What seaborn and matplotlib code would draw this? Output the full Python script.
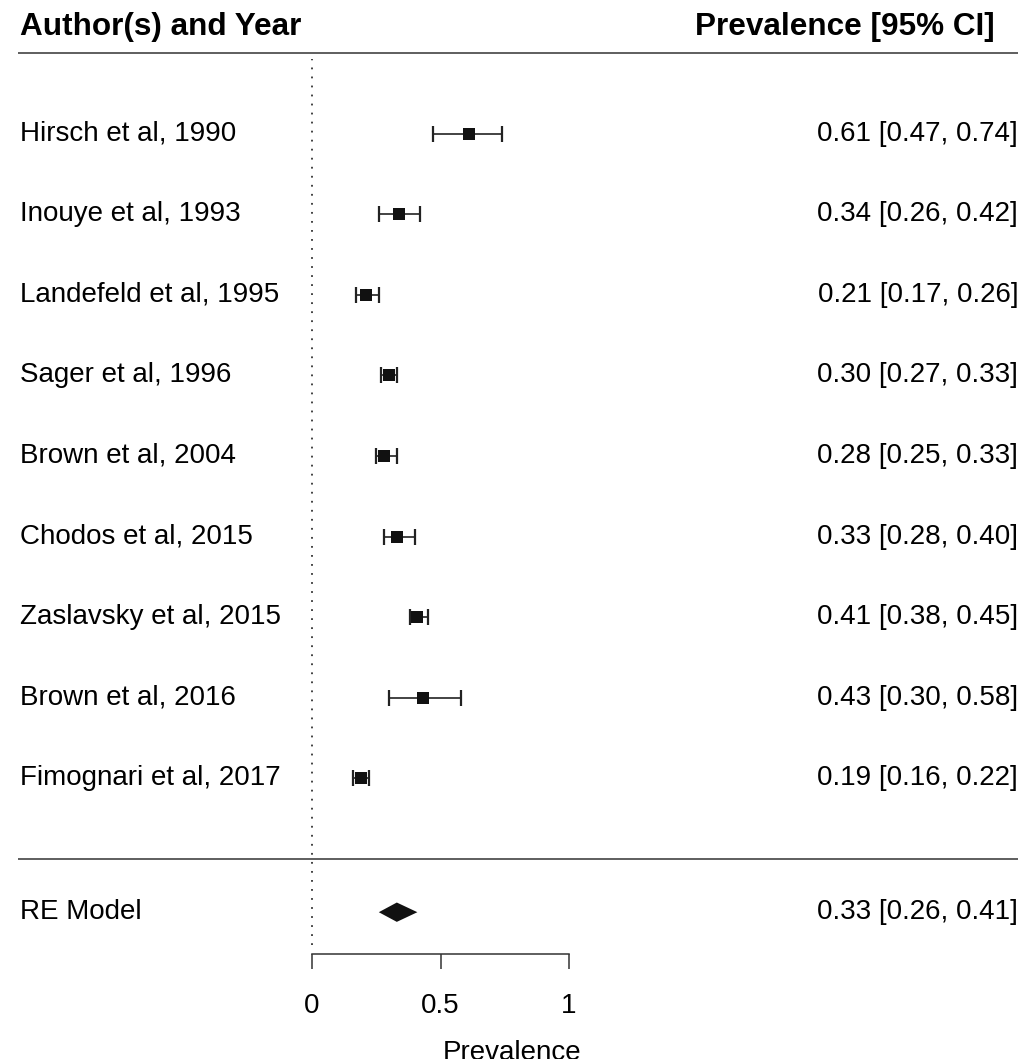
import numpy as np
import pandas as pd
import matplotlib
matplotlib.use("Agg")
import matplotlib.pyplot as plt
import seaborn as sns

## data
studies = ["Hirsch et al, 1990", "Inouye et al, 1993", "Landefeld et al, 1995",
           "Sager et al, 1996", "Brown et al, 2004", "Chodos et al, 2015",
           "Zaslavsky et al, 2015", "Brown et al, 2016", "Fimognari et al, 2017"]
est = [0.61, 0.34, 0.21, 0.30, 0.28, 0.33, 0.41, 0.43, 0.19]
lower = [0.47, 0.26, 0.17, 0.27, 0.25, 0.28, 0.38, 0.30, 0.16]
upper = [0.74, 0.42, 0.26, 0.33, 0.33, 0.40, 0.45, 0.58, 0.22]
re_est, re_lo, re_hi = 0.33, 0.26, 0.41
xticks = [0, 0.5, 1]
xticklabels = ["0", "0.5", "1"]

sns.set_theme(style="white")
plt.rcParams["font.family"] = ["Liberation Sans", "DejaVu Sans"]
plt.rcParams["text.color"] = "black"
plt.rcParams["axes.labelcolor"] = "black"
plt.rcParams["xtick.color"] = "black"

df = pd.DataFrame({"study": studies, "est": est, "lo": lower, "hi": upper})
df["row"] = np.arange(len(df), 0, -1)   # rows k..1 like metafor

fig = plt.figure(figsize=(10.25, 10.59), dpi=100)
ax = fig.add_axes([0, 0, 1, 1])
ax.set_xlim(-312 / 257, (1025 - 312) / 257)
ax.set_ylim(-200 / 80.6, 859 / 80.6)

# confidence intervals
ax.errorbar(df["est"], df["row"], xerr=[df["est"] - df["lo"], df["hi"] - df["est"]],
            fmt="none", ecolor="#222222", elinewidth=1.2, capsize=5.5, capthick=1.6)
sns.scatterplot(data=df, x="est", y="row", marker="s", s=68, color="#111111",
                edgecolor="#111111", linewidth=0, ax=ax, zorder=3)

# summary diamond
re_row = -0.66
ax.fill([re_lo, re_est, re_hi, re_est], [re_row, re_row + 0.12, re_row, re_row - 0.12],
        color="#111111", lw=0)

# reference line at 0
ax.vlines(0, -1.07, 9.92, color="#333333", lw=1.3, linestyles=(0, (1, 4)))

# text column anchors (data units of the x scale)
xl, xr, xh = -1.136, 2.748, 2.658

# horizontal rules
ax.hlines([10, 0], xl - 0.008, xr, color="#333333", lw=1.1)

fs = 20
for _, r in df.iterrows():
    ax.text(xl, r["row"], r["study"], ha="left", va="center", fontsize=fs)
    ax.text(xr, r["row"], f"{r['est']:.2f} [{r['lo']:.2f}, {r['hi']:.2f}]",
            ha="right", va="center", fontsize=fs)
ax.text(xl, re_row, "RE Model", ha="left", va="center", fontsize=fs)
ax.text(xr, re_row, f"{re_est:.2f} [{re_lo:.2f}, {re_hi:.2f}]",
        ha="right", va="center", fontsize=fs)
ax.text(xl, 10.32, "Author(s) and Year", ha="left", va="center",
        fontsize=22.7, fontweight="bold")
ax.text(xh, 10.32, "Prevalence [95% CI]", ha="right", va="center",
        fontsize=22.7, fontweight="bold")

# x axis drawn as a floating spine
for s in ["top", "right", "left"]:
    ax.spines[s].set_visible(False)
ax.spines["bottom"].set_position(("data", -1.18))
ax.spines["bottom"].set_bounds(0, 1)
ax.spines["bottom"].set_color("#333333")
ax.spines["bottom"].set_linewidth(1.1)
ax.set_xticks(xticks)
ax.set_xticklabels(xticklabels, fontsize=fs)
ax.tick_params(axis="x", direction="out", length=11, width=1.1, color="#333333",
               pad=17, bottom=True)
ax.set_yticks([])
ax.set_xlabel("Prevalence", fontsize=fs, labelpad=15)
ax.set_ylabel("")

fig.savefig("out.png", dpi=100)
